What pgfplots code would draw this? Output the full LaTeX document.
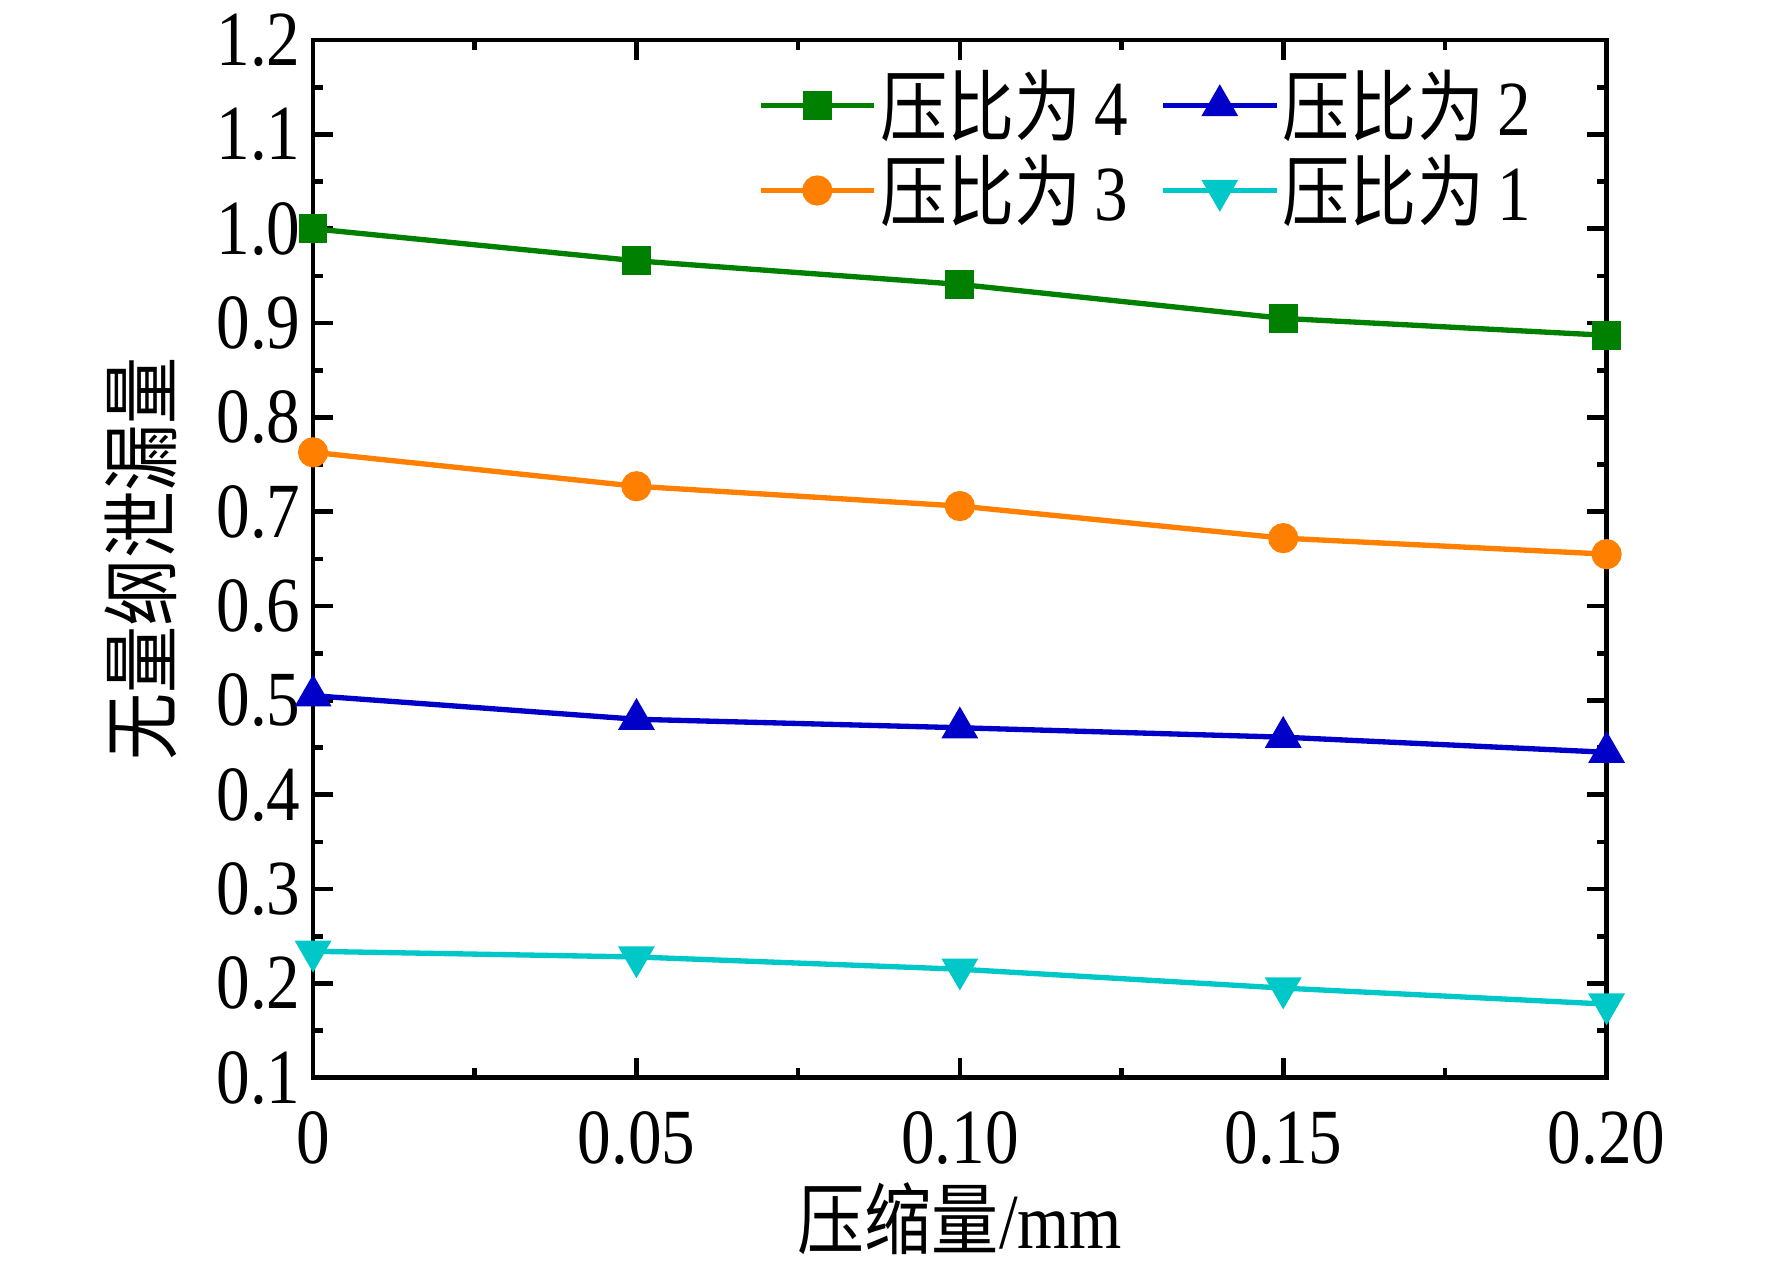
\documentclass[border=0pt]{standalone}
\usepackage{pgfplots}
\pgfplotsset{compat=1.18}
\usepackage{fontspec}
\setmainfont[FakeStretch=0.86]{Liberation Serif}
\newfontfamily\cjk[FakeStretch=0.86]{Noto Sans CJK SC}
\definecolor{cgreen}{RGB}{0,128,0}
\definecolor{corange}{RGB}{255,128,0}
\definecolor{cblue}{RGB}{0,0,200}
\definecolor{ccyan}{RGB}{0,200,200}
\begin{document}
\begin{tikzpicture}
\begin{axis}[
  scale only axis,
  width=364.4pt, height=292.3pt,
  xmin=0, xmax=0.2, ymin=0.1, ymax=1.2,
  xtick={0,0.05,0.10,0.15,0.20},
  xticklabels={0,0.05,0.10,0.15,0.20},
  minor x tick num=1,
  ytick={0.1,0.2,0.3,0.4,0.5,0.6,0.7,0.8,0.9,1.0,1.1,1.2},
  yticklabels={0.1,0.2,0.3,0.4,0.5,0.6,0.7,0.8,0.9,1.0,1.1,1.2},
  minor y tick num=1,
  tick align=inside,
  major tick length=5.6pt,
  minor tick length=2.8pt,
  axis line style={line width=1.3pt},
  every tick/.style={line width=1.3pt, black},
  /pgf/number format/assume math mode=true,
  tick label style={font=\fontsize{22}{26}\selectfont},
  xticklabel style={yshift=-6pt},
  yticklabel style={xshift=0pt},
  xlabel={\cjk 压缩量\normalfont/mm},
  ylabel={\cjk 无量纲泄漏量},
  label style={font=\fontsize{22}{26}\selectfont},
  xlabel style={at={(axis description cs:0.5,-0.136)}, anchor=center},
  ylabel style={at={(axis description cs:-0.1334,0.5)}, anchor=center},
  legend columns=2,
  legend style={
    at={(axis description cs:0.953,0.982)}, anchor=north east,
    draw=none, fill=none,
    font=\fontsize{22}{26}\selectfont,
    /tikz/every even column/.append style={column sep=8pt},
    row sep=2pt,
    nodes={inner xsep=1pt, inner ysep=1pt},
  },
  legend image code/.code={%
    \draw[mark repeat=2,mark phase=2,#1] plot coordinates {(0pt,0pt)(16pt,0pt)(32pt,0pt)};},
  every axis plot/.append style={line width=1.5pt},
  clip=false,
]
\addplot[cgreen, mark=square*, mark size=3.3pt, mark options={solid}] coordinates {
  (0,1.000) (0.05,0.966) (0.10,0.941) (0.15,0.905) (0.20,0.887)};
\addlegendentry{{\cjk 压比为}\,4}
\addplot[cblue, mark=triangle*, mark size=4.5pt, mark options={solid}] coordinates {
  (0,0.505) (0.05,0.480) (0.10,0.471) (0.15,0.461) (0.20,0.445)};
\addlegendentry{{\cjk 压比为}\,2}
\addplot[corange, mark=*, mark size=3.5pt, mark options={solid}] coordinates {
  (0,0.763) (0.05,0.727) (0.10,0.706) (0.15,0.672) (0.20,0.655)};
\addlegendentry{{\cjk 压比为}\,3}
\addplot[ccyan, mark=triangle*, mark size=4.5pt, mark options={solid, rotate=180}] coordinates {
  (0,0.234) (0.05,0.228) (0.10,0.215) (0.15,0.195) (0.20,0.178)};
\addlegendentry{{\cjk 压比为}\,1}
\end{axis}
\pgfresetboundingbox
\path (current axis.south west) ++(-88.2pt,-52.2pt) rectangle ++(499.2pt,355.8pt);
\end{tikzpicture}
\end{document}
